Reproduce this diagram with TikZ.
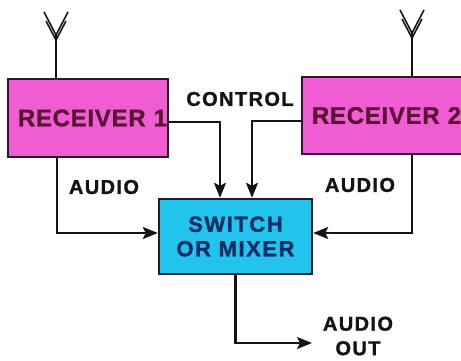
\documentclass[tikz,border=0pt]{standalone}
\usepackage{fontspec}
\usetikzlibrary{arrows.meta}
\newfontfamily\labfont[LetterSpace=7, FakeBold=1.2]{Liberation Sans Bold}
\newfontfamily\boxfont[LetterSpace=3, FakeBold=1.2]{Liberation Sans Bold}
\definecolor{rxpink}{HTML}{F05CD2}
\definecolor{rxtext}{HTML}{5A1535}
\definecolor{swcyan}{HTML}{22C4EE}
\definecolor{swtext}{HTML}{0D2C63}
\definecolor{edge}{HTML}{2A1A28}
\definecolor{ink}{HTML}{141414}
\begin{document}
\begin{tikzpicture}[x=1pt,y=-1pt,
  rxbox/.style={draw=edge, line width=2.4pt, fill=rxpink, text=rxtext,
    font=\boxfont\fontsize{24}{28}\selectfont, minimum height=78pt},
  swbox/.style={draw=edge, line width=2.4pt, fill=swcyan, text=swtext,
    font=\labfont\fontsize{22}{24.5}\selectfont, minimum width=153pt,
    minimum height=75pt, align=center},
  lbl/.style={text=ink, font=\labfont\fontsize{20}{24.5}\selectfont, inner sep=0pt, align=center},
  wire/.style={draw=ink, line width=2.3pt},
  arr/.style={wire, -{Stealth[length=15pt,width=12pt,inset=3pt]}},
  ant/.style={draw=ink, line width=1.6pt, line join=miter}]
\clip (0,0) rectangle (461,360);
\fill[white] (0,0) rectangle (461,360);
% boxes
\node[rxbox, text width=158pt, inner xsep=1pt, align=right] (r1) at (88,118) {RECEIVER 1};
\node[rxbox, text width=163pt, inner xsep=10pt, align=left, minimum height=77pt] (r2) at (393.5,115.5) {RECEIVER 2};
\node[swbox] (sw) at (235.5,236.5) {SWITCH\\OR MIXER};
% antennas
\coordinate (a1) at (56,35);
\coordinate (a2) at (412,33);
\draw[ant] (44,12) -- (a1) -- (68,12);
\draw[ant] (46,21) -- (56,40) -- (66,21);
\draw[ant] (400,10) -- (a2) -- (424,10);
\draw[ant] (402,19) -- (412,38) -- (422,19);
\draw[wire] (a1) -- (a1 |- r1.north);
\draw[wire] (a2) -- (a2 |- r2.north);
% control
\draw[arr] ([yshift=-4pt]r1.east) -| ([xshift=-15.5pt]sw.north);
\draw[arr] ([yshift=-5.5pt]r2.west) -| ([xshift=16.5pt]sw.north);
% audio
\draw[arr] ([xshift=-31pt]r1.south) |- ([yshift=3.5pt]sw.west);
\draw[arr] ([xshift=18.5pt]r2.south) |- ([yshift=3.5pt]sw.east);
% output
\coordinate (out) at (312,343);
\draw[arr] (sw.south) |- (out);
% labels
\node[lbl] (lc) at (240,99) {CONTROL};
\node[lbl] (la1) at (104,187) {AUDIO};
\node[lbl] (la2) at (360,185) {AUDIO};
\node[lbl] (lo) at (358,336) {AUDIO\\OUT};
\end{tikzpicture}
\end{document}
